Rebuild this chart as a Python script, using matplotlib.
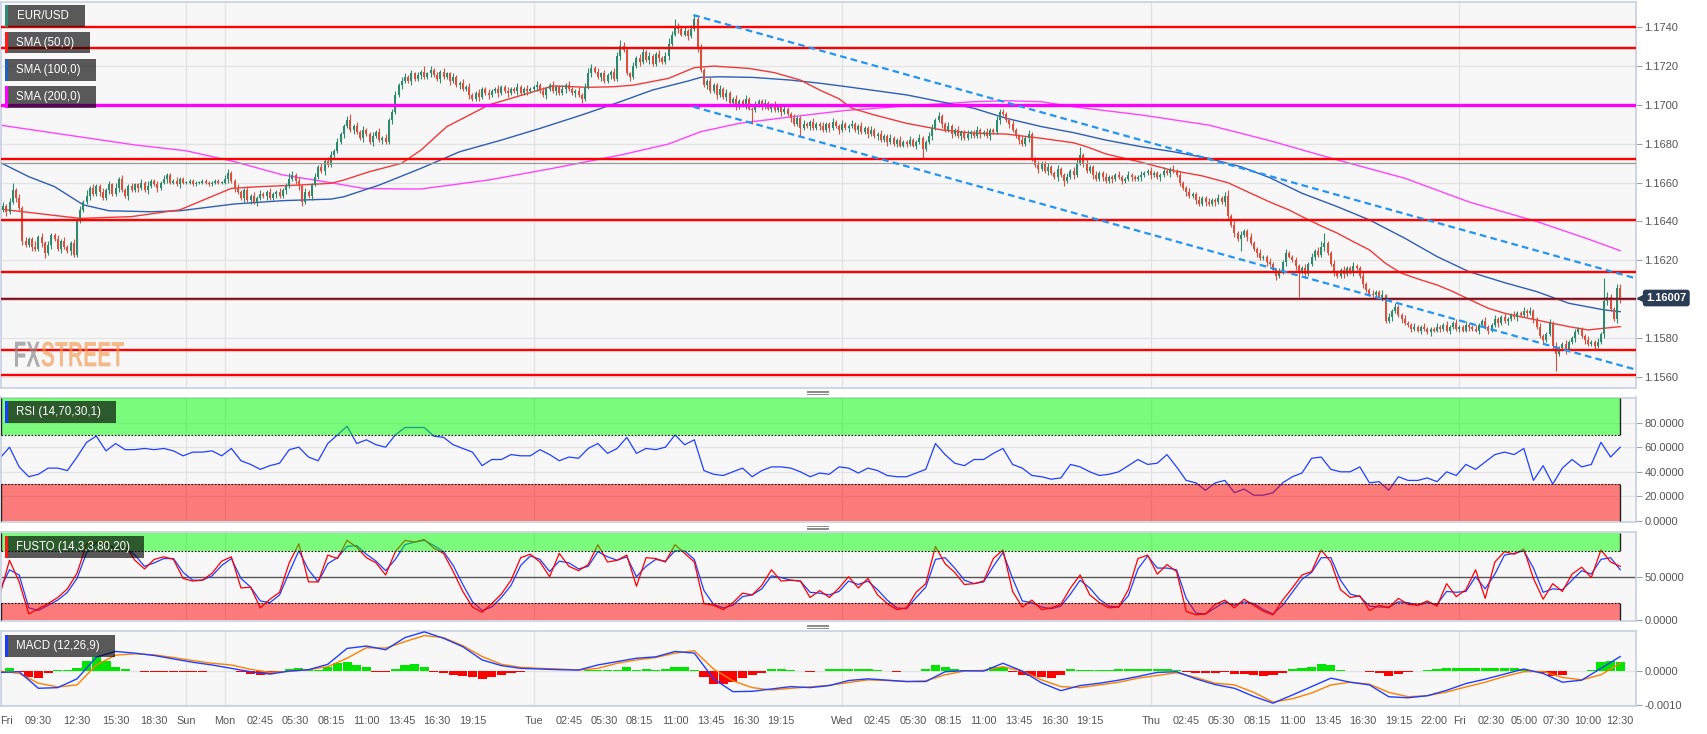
import numpy as np
import matplotlib
matplotlib.use("Agg")
import matplotlib.pyplot as plt
from matplotlib.patches import Rectangle, PathPatch
from matplotlib.textpath import TextPath
from matplotlib.font_manager import FontProperties
from matplotlib.transforms import Affine2D, blended_transform_factory

plt.rcParams['font.family'] = ['Liberation Sans', 'DejaVu Sans']

# ------------------------------------------------------------------ data
BASE = 1.15          # price = BASE + pips * PIP
PIP = 0.0001

first_open_pips = 144
close_pips = [
    146,148,145,150,156,152,147,130,128,131,127,126,132,129,124,128,133,131,126,130,
    127,125,129,123,141,146,150,153,157,154,158,155,152,156,159,154,157,162,156,153,
    158,156,159,157,160,156,158,161,159,157,160,162,164,160,161,159,162,160,160,161,
    159,160,160,161,160,159,160,161,160,160,162,165,161,157,155,152,156,151,153,150,
    152,154,153,155,152,154,155,153,156,158,162,164,161,158,150,155,153,159,163,168,
    166,171,169,174,176,181,185,189,192,187,189,186,183,187,185,181,184,186,182,183,
    181,192,196,205,210,212,214,212,216,213,215,217,214,216,218,215,213,217,214,216,
    212,214,210,211,208,209,205,203,206,204,208,206,205,207,208,206,209,207,206,208,
    207,209,206,208,207,208,209,210,207,205,208,210,207,209,206,208,210,208,206,207,
    205,203,209,216,219,217,214,216,212,215,217,213,225,230,228,216,214,220,224,222,
    227,223,225,221,226,224,222,225,231,236,240,239,236,238,235,239,244,229,218,210,
    212,207,210,205,208,204,206,201,203,199,202,200,203,198,197,200,202,199,201,198,
    200,197,199,196,198,195,193,190,193,188,190,189,191,188,190,189,187,190,188,191,
    189,187,190,188,189,190,187,189,186,188,185,187,184,185,182,184,181,183,180,182,
    179,181,180,182,179,181,183,177,181,184,188,192,194,190,187,189,185,187,184,186,
    183,185,186,184,187,185,186,184,187,186,192,196,195,192,190,187,184,182,180,183,
    185,172,169,167,170,166,168,165,163,167,164,161,163,166,164,170,174,170,166,168,
    164,162,165,163,161,163,162,164,163,161,162,164,163,162,163,164,165,166,164,165,
    163,164,166,165,167,166,164,160,157,155,153,154,151,149,152,150,149,151,150,152,
    150,153,143,138,134,131,133,135,132,129,126,124,121,122,119,118,115,112,114,119,
    124,122,120,117,114,116,113,118,122,125,123,127,129,124,118,114,112,115,113,116,
    114,117,116,112,108,105,103,102,104,101,102,89,91,94,96,92,90,88,87,85,
    86,84,86,85,83,85,84,86,85,87,84,86,88,85,86,84,87,86,85,84,
    87,89,86,84,87,90,88,91,89,90,92,91,93,92,94,93,94,90,86,81,
    79,82,88,76,72,75,77,74,78,80,83,85,81,79,77,78,76,78,82,99,
    101,95,90,106,100]
wick_up_pips = [
    1,2,1,2,4,1,2,1,2,1,1,3,1,2,1,2,1,1,2,1,
    2,1,1,2,1,2,1,3,1,2,1,1,2,1,2,1,3,1,2,1,
    1,2,1,1,2,1,3,1,1,2,1,2,1,1,1,2,1,1,1,1,
    1,1,1,1,1,1,1,1,1,1,2,2,1,1,2,1,1,2,1,2,
    1,2,1,1,2,1,1,2,1,2,3,2,1,2,1,2,1,1,2,1,
    2,1,2,2,1,2,1,1,2,3,1,2,1,2,1,1,2,1,2,1,
    2,1,2,2,1,2,2,1,2,1,2,1,3,1,2,1,2,1,2,1,
    1,2,1,1,2,1,2,1,1,2,1,1,2,1,1,2,1,1,2,1,
    1,2,1,1,2,1,1,2,1,2,1,1,2,1,1,2,1,2,1,1,
    2,1,2,3,2,1,2,1,2,1,1,2,2,3,2,1,1,2,1,2,
    2,1,2,1,1,2,1,2,3,2,4,2,1,2,1,2,2,1,2,1,
    1,2,1,1,2,1,2,1,1,2,1,1,2,1,1,2,1,1,2,1,
    1,2,1,1,2,1,1,2,1,1,2,1,1,2,1,1,2,1,1,2,
    1,1,2,1,1,2,1,1,2,1,1,2,1,1,2,1,1,2,1,1,
    2,1,1,2,1,1,2,1,1,2,2,1,2,1,1,2,1,1,2,1,
    1,2,1,1,2,1,1,2,1,1,2,2,2,1,1,2,1,1,2,1,
    2,1,1,2,1,1,2,1,1,2,1,1,2,1,2,2,4,1,2,1,
    1,2,1,1,2,1,1,1,2,1,1,2,1,1,1,2,1,1,2,1,
    1,1,2,1,1,2,1,2,1,1,2,1,1,2,1,1,2,1,1,2,
    1,2,3,1,2,1,2,1,1,2,1,1,2,1,1,2,1,1,2,1,
    2,1,1,2,1,1,2,1,2,1,2,3,5,1,1,2,1,1,2,1,
    1,2,1,1,2,1,1,2,1,1,3,1,2,1,2,1,1,2,1,1,
    2,1,1,2,1,1,1,2,1,1,2,1,1,2,1,1,2,1,1,2,
    1,1,2,1,1,2,1,1,2,1,1,2,1,1,2,1,2,1,1,2,
    1,1,2,1,2,1,1,2,1,1,2,1,1,1,2,1,1,2,1,12,
    3,2,1,2,2]
wick_dn_pips = [
    1,1,2,1,1,2,1,2,1,1,2,1,1,2,3,1,2,1,1,2,
    1,1,2,1,1,2,1,1,2,1,1,2,1,1,2,1,1,2,1,1,
    2,1,1,2,1,1,2,1,1,2,1,1,2,1,1,1,2,1,1,1,
    1,1,1,1,1,1,1,1,1,1,1,2,1,2,1,1,2,1,2,1,
    2,1,1,2,1,1,2,1,1,2,1,1,2,2,2,1,1,2,1,1,
    1,2,1,1,2,1,1,2,1,1,2,1,1,2,1,1,2,1,1,2,
    1,1,2,1,1,2,1,1,2,1,1,2,1,1,2,1,1,2,1,1,
    2,1,1,2,1,1,2,1,1,2,1,1,2,1,1,2,1,1,2,1,
    1,2,1,1,2,1,1,2,1,1,2,1,1,2,1,1,2,1,1,2,
    1,2,1,1,2,1,1,2,1,1,2,1,1,2,1,1,2,1,1,2,
    1,1,2,1,1,2,1,1,2,1,1,2,1,1,2,1,1,2,1,1,
    2,1,1,2,1,1,2,1,1,2,1,1,2,1,7,1,1,2,1,1,
    2,1,1,2,1,1,2,1,1,4,1,1,2,1,1,2,1,1,2,1,
    1,2,1,1,2,1,1,2,1,1,2,1,1,2,1,1,2,1,1,2,
    1,1,2,1,1,2,1,5,1,1,2,1,1,2,1,1,2,1,1,2,
    1,1,2,1,1,2,1,1,2,1,1,2,1,1,2,1,1,2,1,1,
    2,1,1,2,1,1,2,1,1,2,1,3,1,1,2,1,1,2,1,1,
    2,1,1,2,1,1,2,1,1,2,1,1,2,1,1,2,1,1,2,1,
    1,2,1,1,2,1,1,2,1,2,1,1,2,1,1,2,1,1,2,1,
    1,2,2,1,2,1,6,1,2,1,1,2,1,1,2,1,1,2,1,1,
    2,1,1,2,13,1,2,1,1,2,1,1,2,1,1,2,1,1,2,1,
    1,2,1,1,2,1,1,2,1,1,2,1,1,2,1,1,2,1,1,2,
    1,1,2,1,1,2,1,1,2,1,1,2,1,1,2,1,1,2,1,1,
    2,1,1,2,1,1,2,1,1,2,1,1,2,1,1,2,1,2,1,1,
    2,1,1,2,9,1,1,2,1,1,2,1,1,2,1,1,2,1,1,2,
    2,1,1,2,2]

# moving averages (candle index, value in pips)
sma50_idx = [0,16,25,41,56,72,81,93,103,107,115,125,131,139,149,152,172,183,191,197,
             208,216,222,233,241,249,255,261,265,272,282,293,303,313,324,334,338,344,355,365,
             374,382,388,395,401,405,411,416,421,426,431,436,442,447,452,457,463,468,473,478,
             483,488,494,499,504]
sma50_pips = [146.4,143.3,141.6,142.5,146,157,157.9,158.7,159.6,161.3,165.6,169.9,176.7,188.7,197.2,
              199.8,209.6,208.9,209.2,210,213.5,219,219.8,218.6,216.4,212.6,207.5,203,198.1,194.7,
              190.4,187,185.3,184.9,182.7,180.4,178.4,174.7,170.4,166.1,163.4,159.9,155.3,150,145.9,
              142.5,137.7,134,129.6,125.4,118.5,113.4,110,107.4,104,100,95.4,92.9,91.1,89.4,
              87.7,86,84.3,85.2,86]
sma100_idx = [0,9,17,26,34,47,56,73,88,103,107,118,131,143,156,168,181,193,203,214,218,224,234,246,
              255,263,282,303,313,324,334,344,355,365,376,386,395,405,416,426,437,447,457,468,478,488,499,504]
sma100_pips = [170.4,163,157.9,148.5,145.5,145,145.5,149,150.7,151.5,152.7,158.7,167.3,175.8,181.8,
               187.8,194.7,201.5,207.5,212.1,214,214.3,214,212.6,211,209.3,205,198.1,193,188.7,
               185.6,181.8,178.4,175.8,172.4,168.1,162.5,154.5,147.6,140.8,131.4,122,114.2,108.6,104,
               98,94.6,93.7]
sma200_idx = [0,21,42,58,73,88,103,113,125,131,152,172,193,208,218,230,245,263,282,303,313,324,334,355,
              376,395,416,437,457,478,494,504]
sma200_pips = [189.5,184.4,179.3,176.3,170.7,163.9,159.9,157,156.7,156.7,161.3,167.3,174.1,179.8,186.1,
               190.4,193.5,197,199.3,201.5,202,201.5,198.9,194.7,189.5,181.5,171.6,162.2,150,140,131,125]

red_levels = [1.1740, 1.1729, 1.1672, 1.1641, 1.1614, 1.1600, 1.1574, 1.1561]
magenta_level = 1.1700
gray_level = 1.1670
last_price = 1.16007

channel_idx = [215.7, 508.9]
channel_upper = [1.17460, 1.16108]
channel_lower = [1.16989, 1.15639]

# oscillators sampled every OSC_STEP candles
OSC_STEP = 3
rsi = [51,60,44,36,38,43,43,41,52,64,69,57,63,58,58,59,58,59,57,53,56,56,57,53,59,
       49,46,42,45,47,58,60,52,49,63,70,77,63,66,62,60,70,76,76,76,
       69,68,62,59,56,45,50,50,54,53,53,58,54,49,52,51,59,63,55,59,68,55,59,58,60,
       70,62,66,41,38,37,40,43,36,41,44,44,43,40,36,39,38,44,43,
       39,43,41,37,36,36,39,42,63,54,47,45,50,50,55,59,46,43,37,36,34,35,46,44,40,
       37,38,40,45,50,46,47,54,44,33,31,25,31,33,23,26,21,21,23,
       31,36,39,51,52,42,40,40,44,31,32,25,36,33,33,35,32,40,37,46,42,48,54,56,54,
       59,33,45,30,43,50,44,46,64,52,60]
stoch_k = [29,69,44,7,13,19,26,36,54,88,90,88,81,86,69,59,70,73,70,48,45,46,54,68,73,
           37,38,14,24,32,66,88,44,44,75,71,92,84,72,66,52,79,92,90,93,
           83,77,56,33,15,9,19,30,46,72,76,67,50,77,62,57,64,87,67,69,75,39,72,71,67,
           87,77,67,19,17,12,20,31,29,40,58,45,46,45,26,34,26,37,50,
           37,48,29,19,12,14,32,42,85,65,55,41,42,45,71,81,33,15,23,12,14,18,37,52,29,
           20,14,15,35,71,75,53,64,56,10,6,7,18,23,14,24,17,10,6,
           23,37,52,56,81,67,35,26,28,11,17,14,25,18,17,22,16,42,27,35,58,25,67,79,76,
           82,48,24,42,33,53,61,49,81,67,62]
stoch_d = [35,58,52,14,11,17,23,32,48,78,89,88,83,84,75,62,66,71,71,55,46,46,51,63,71,
           48,38,22,20,29,55,80,58,44,65,72,85,86,76,68,57,70,87,90,92,
           86,79,63,41,21,11,15,26,40,63,74,70,56,68,66,59,62,79,73,69,73,50,62,70,68,
           80,80,70,34,18,14,17,27,29,36,51,49,46,45,32,31,29,33,45,
           41,45,35,23,14,13,26,38,70,72,60,46,42,44,62,78,48,22,20,15,13,16,30,46,37,
           24,16,15,28,59,74,60,60,58,25,8,7,14,21,17,21,19,12,7,
           17,32,47,55,72,72,46,30,27,16,15,15,21,20,17,20,18,33,32,33,50,36,53,75,77,
           80,60,32,36,35,46,57,53,70,72,58]
# MACD histogram (units of 1e-5), every OSC_STEP candles
macd_hist = [0,8,-5,-18,-22,-8,1,2,8,30,40,30,12,6,-2,-3,-3,-4,-3,-3,-3,-3,-2,-2,-1,
             -5,-9,-12,-10,-4,6,8,6,2,10,22,25,18,10,-3,-3,6,18,20,10,
             -3,-8,-12,-16,-20,-25,-20,-12,-6,-3,-2,-2,-1,-2,-1,-1,3,3,2,3,12,3,4,3,4,
             10,12,3,-20,-38,-40,-33,-22,-12,-6,4,4,3,-2,-3,-2,4,5,5,
             5,4,3,-2,-3,-2,0,6,18,12,6,2,2,2,10,12,-5,-12,-16,-20,-22,-12,5,3,3,
             3,3,4,5,6,6,4,5,3,-5,-6,-8,-6,-5,-9,-11,-14,-15,-12,
             -8,5,8,12,20,17,2,-1,-1,-4,-8,-15,-10,-4,-2,3,6,8,9,9,8,8,9,9,7,
             6,-3,-8,-15,-12,-2,0,1,25,28,25]
# MACD and signal lines (units of 1e-5), every MACD_STEP candles
MACD_STEP = 6
macd_line = [-5,-3,-52,-50,-24,40,57,52,45,35,25,17,7,-3,-10,-1,3,19,66,73,62,98,115,
             96,71,32,15,7,5,3,2,17,27,37,41,57,52,-24,-62,-61,-54,-47,-50,-44,-29,
             -24,-28,-32,-32,-3,0,-1,22,-1,-36,-59,-44,-37,-28,-17,-5,-3,-24,-41,-52,-76,-96,
             -72,-47,-22,-34,-42,-77,-80,-74,-58,-38,-25,-10,5,-8,-34,-28,7,42]
macd_signal = [-1,-8,-37,-48,-42,17,46,50,47,39,30,22,17,4,-5,-2,3,12,37,68,67,86,104,
               98,74,42,19,10,7,5,2,7,22,32,39,52,59,5,-30,-50,-57,-52,-48,-43,-35,
               -27,-29,-32,-30,-12,-1,1,12,-1,-27,-47,-50,-42,-34,-22,-14,-6,-20,-37,-42,-64,-93,
               -83,-66,-42,-34,-40,-64,-77,-74,-63,-48,-34,-17,-3,-2,-20,-27,-12,22]

tick_idx = [2,12,24,36,48,58,70,81,92,103,114,125,136,147,166,177,188,199,210,221,232,243,
            262,273,284,295,306,317,328,339,358,369,380,391,402,413,424,435,446,454,464,474,484,494,504]
tick_text = ['Fri','09:30','12:30','15:30','18:30','Sun','Mon','02:45','05:30','08:15','11:00','13:45',
             '16:30','19:15','Tue','02:45','05:30','08:15','11:00','13:45','16:30','19:15','Wed','02:45',
             '05:30','08:15','11:00','13:45','16:30','19:15','Thu','02:45','05:30','08:15','11:00','13:45',
             '16:30','19:15','22:00','Fri','02:30','05:00','07:30','10:00','12:30']
day_idx = [58, 70, 166, 262, 358, 454]

# ------------------------------------------------------------------ derived
c = BASE + np.array(close_pips) * PIP
o = np.concatenate([[BASE + first_open_pips * PIP], c[:-1]])
hi = np.maximum(o, c) + np.array(wick_up_pips) * PIP
lo = np.minimum(o, c) - np.array(wick_dn_pips) * PIP
xc = np.arange(len(c))
LAST = len(c) - 1
osc_x = np.arange(len(rsi)) * OSC_STEP
macd_x = np.arange(len(macd_line)) * MACD_STEP

# ------------------------------------------------------------------ layout
W, H = 1707, 734
X_LEFT, X_RIGHT = 0.2, 508.9
PLOT_L, PLOT_R = 0.5, 1636.0
fig = plt.figure(figsize=(W / 100, H / 100), dpi=100)
fig.patch.set_facecolor('white')


def panel(top, bottom):
    a = fig.add_axes([PLOT_L / W, 1 - bottom / H, (PLOT_R - PLOT_L) / W, (bottom - top) / H])
    a.set_facecolor('#f7f7f7')
    for s in a.spines.values():
        s.set_color('#c8d0df')
        s.set_linewidth(1.2)
    a.set_xlim(X_LEFT, X_RIGHT)
    a.yaxis.tick_right()
    a.tick_params(axis='y', length=4, width=0.8, color='#9aa3b5', labelsize=8,
                  labelcolor='#555555', pad=2)
    a.tick_params(axis='x', length=0, labelbottom=False)
    for d in day_idx:
        a.axvline(d, color='#e1e1e1', lw=0.9, zorder=0.5)
    return a


def zones(a, low_top, high_bot, top=100, bottom=0):
    a.add_patch(Rectangle((X_LEFT, high_bot), LAST - X_LEFT, top - high_bot,
                          fc=(0, 1, 0, 0.5), ec='none', zorder=3))
    a.add_patch(Rectangle((X_LEFT, bottom), LAST - X_LEFT, low_top - bottom,
                          fc=(1, 0, 0, 0.5), ec='none', zorder=3))
    a.hlines([high_bot, low_top], X_LEFT, LAST, colors='#111111',
             linestyles=(0, (1.5, 1.5)), lw=0.8, zorder=4)
    for xe in (X_LEFT + 0.3, LAST):
        a.vlines([xe, xe], [high_bot, bottom], [top, low_top], colors='#222222', lw=1.0, zorder=4)


# ---------- main price panel
ax = panel(2, 388)
ax.set_ylim(1.15545, 1.17527)
yt = np.round(np.arange(1.1560, 1.17401, 0.0020), 4)
ax.set_yticks(yt)
# the 1.1600 label sits under the last-price tag
ax.set_yticklabels(['' if abs(v - last_price) < 0.0005 else f'{v:.4f}' for v in yt])
for v in yt:
    ax.axhline(v, color='#e3e3e3', lw=0.9, zorder=0.5)

ax.plot(sma200_idx, BASE + np.array(sma200_pips) * PIP, color='#ff44ff', lw=1.0, zorder=2)
ax.plot(sma100_idx, BASE + np.array(sma100_pips) * PIP, color='#2d5fb5', lw=1.0, zorder=2)
ax.plot(sma50_idx, BASE + np.array(sma50_pips) * PIP, color='#f03a3a', lw=1.0, zorder=2)

bull = c >= o
ccol = np.where(bull, '#2e8a6c', '#d9503e')
ax.vlines(xc, lo, hi, colors=ccol, lw=0.8, zorder=3)
ax.bar(xc, np.maximum(np.abs(c - o), 0.4 * PIP), bottom=np.minimum(o, c), width=0.62,
       color=ccol, lw=0, zorder=3)

ax.axhline(gray_level, color='#9a9a9a', lw=0.9, zorder=3.5)
for lv in red_levels:
    ax.axhline(lv, color='#ff0000', lw=1.7, zorder=4)
ax.axhline(magenta_level, color='#ff00ff', lw=2.4, zorder=4)
ax.axhline(last_price, color='#22344d', lw=0.9, zorder=4.5)

ax.plot(channel_idx, channel_upper, color='#2196f3', lw=1.6, ls=(0, (3, 1.9)), zorder=5)
ax.plot(channel_idx, channel_lower, color='#2196f3', lw=1.6, ls=(0, (3, 1.9)), zorder=5)

tr = blended_transform_factory(ax.transAxes, ax.transData)
ax.text(1.0062, last_price, f'{last_price:.5f}', transform=tr, ha='left', va='center',
        fontsize=8, fontweight='bold', color='white', zorder=20, clip_on=False,
        bbox=dict(boxstyle='round,pad=0.3,rounding_size=0.25', fc='#2b3d54', ec='none'))
ax.plot([1.0022], [last_price], marker='<', ms=5, color='#2b3d54', transform=tr,
        clip_on=False, zorder=20)

# ---------- RSI
ar = panel(397.5, 522)
ar.set_ylim(-0.8, 100.4)
ar.set_yticks([0, 20, 40, 60, 80])
ar.set_yticklabels([f'{v:.4f}' for v in [0, 20, 40, 60, 80]])
for v in [20, 40, 60, 80]:
    ar.axhline(v, color='#e3e3e3', lw=0.9, zorder=0.5)
ar.plot(osc_x, rsi, color='#2040ff', lw=0.9, zorder=2)
zones(ar, 30, 70)

# ---------- stochastic
ast = panel(531.7, 621)
ast.set_ylim(-1.15, 102)
ast.set_yticks([0, 50])
ast.set_yticklabels(['0.0000', '50.0000'])
ast.axhline(50, color='#555555', lw=1.0, zorder=1.5)
ast.plot(osc_x, stoch_d, color='#2040ff', lw=0.9, zorder=2)
ast.plot(osc_x, stoch_k, color='#ff0000', lw=0.9, zorder=2.1)
zones(ast, 20, 80)

# ---------- MACD
am = panel(631, 706)
am.set_ylim(-0.001044, 0.001175)
am.set_yticks([-0.001, 0.0])
am.set_yticklabels(['-0.0010', '0.0000'])
am.axhline(0, color='#e3e3e3', lw=0.9, zorder=0.5)
am.axhline(-0.001, color='#e3e3e3', lw=0.9, zorder=0.5)
hist = np.array(macd_hist) * 1e-5
am.bar(osc_x, hist, width=2.85, color=np.where(hist >= 0, '#00e600', '#ff0000'), lw=0, zorder=2)
am.plot(macd_x, np.array(macd_signal) * 1e-5, color='#ff8000', lw=1.0, zorder=3)
am.plot(macd_x, np.array(macd_line) * 1e-5, color='#1f3fff', lw=1.0, zorder=3.1)
am.set_xticks(tick_idx)
am.set_xticklabels(tick_text)
am.tick_params(axis='x', length=0, labelbottom=True, labelsize=7.8, labelcolor='#555555', pad=7)

# ---------- overlay (legend boxes, handles, watermark) in pixel coordinates
ov = fig.add_axes([0, 0, 1, 1], zorder=10)
ov.set_xlim(0, W)
ov.set_ylim(H, 0)
ov.axis('off')
ov.patch.set_alpha(0)


def label_box(x0, y0, x1, y1, color, text):
    ov.add_patch(Rectangle((x0, y0), x1 - x0, y1 - y0, fc=(0, 0, 0, 0.64), ec='none'))
    ov.add_patch(Rectangle((x0, y0), 2.7, y1 - y0, fc=color, ec='none'))
    ov.text(x0 + 11.5, (y0 + y1) / 2 + 0.5, text, color='white', fontsize=8.3,
            va='center', ha='left')


label_box(5, 5, 85, 26.7, '#2e8b78', 'EUR/USD')
label_box(5, 32, 90, 53.3, '#ff1a1a', 'SMA (50,0)')
label_box(5, 59, 96, 80.7, '#1f5fbf', 'SMA (100,0)')
label_box(5, 86, 96, 107.7, '#ff00ff', 'SMA (200,0)')
label_box(5, 401, 115.7, 422.7, '#1a3cff', 'RSI (14,70,30,1)')
label_box(5, 536, 143.7, 557.7, '#ff1a1a', 'FUSTO (14,3,3,80,20)')
label_box(5, 635, 115, 656.7, '#1a3cff', 'MACD (12,26,9)')

for yc in (392.3, 527.5, 626.3):
    for dy in (-1.8, 0, 1.8):
        ov.plot([807, 828], [yc + dy, yc + dy], color='#8a8a8a', lw=0.7)

fp_bold = FontProperties(family='Liberation Sans', weight='bold')


def wm_text(s, x0, x1, base_y, cap_h, color):
    tp = TextPath((0, 0), s, size=100, prop=fp_bold)
    e = tp.get_extents()
    t = Affine2D().translate(-e.x0, -e.y0).scale((x1 - x0) / e.width, -cap_h / e.height) \
        .translate(x0, base_y) + ov.transData
    ov.add_patch(PathPatch(tp, transform=t, fc=color, ec='none'))


wm_text('FX', 15, 40, 366.7, 25, (0.55, 0.55, 0.55, 0.7))
wm_text('STREET', 41.5, 124, 366.7, 25, (0.95, 0.6, 0.3, 0.65))

fig.savefig('out.png', dpi=100, facecolor='white')
